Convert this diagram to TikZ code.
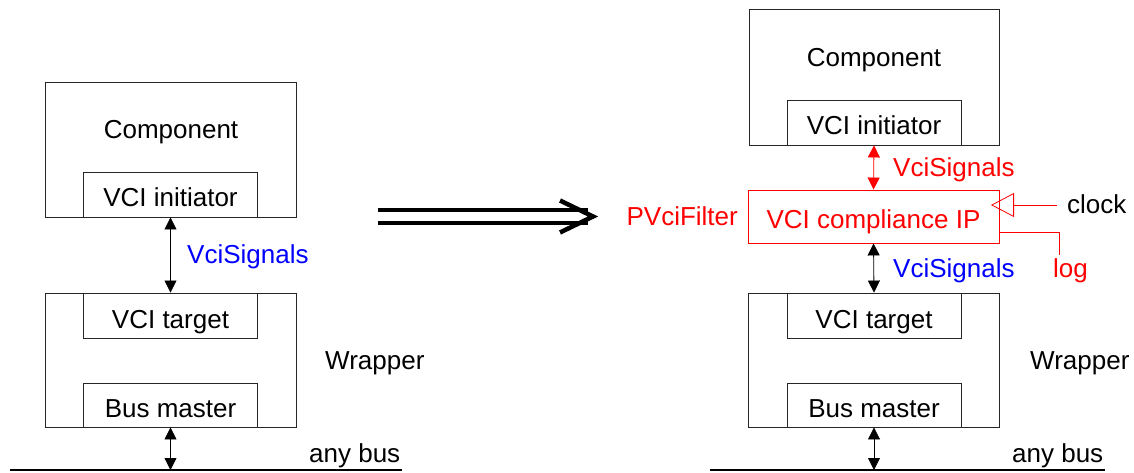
\documentclass[tikz,border=0pt]{standalone}
\usepackage{fontspec}
\setmainfont{Liberation Sans}
\usetikzlibrary{arrows.meta,positioning}
\definecolor{vcired}{RGB}{255,0,0}
\definecolor{vciblue}{RGB}{0,0,255}
\tikzset{
  blk/.style={draw=black!85, line width=0.9pt, inner sep=0pt},
  port/.style={blk, minimum width=174pt, minimum height=45pt, text height=25pt, text depth=0pt},
  lbl/.style={inner sep=0pt, anchor=base west},
  sig/.style={line width=0.8pt, {Triangle[length=12pt,width=12pt]}-{Triangle[length=12pt,width=12pt]}},
  bus/.style={line width=1.5pt}
}

\begin{document}
\begin{tikzpicture}[x=1pt, y=-1pt, font=\fontsize{26}{30}\selectfont]
\useasboundingbox (0,0) rectangle (1134,473);

% left: plain wrapper
\node[blk, minimum width=251pt, minimum height=135pt] (compA) at (170.5,149.5) {};
\node[anchor=base] (compAtxt) at (171,139) {Component};
\node[port] (initA) at (170.5,194.5) {VCI initiator};
\node[blk, minimum width=251pt, minimum height=134pt] (wrapA) at (170.5,360) {};
\node[port] (tgtA) at (170.5,315.5) {VCI target};
\node[port, minimum height=44pt] (busmA) at (170.5,405) {Bus master};
\node[lbl] (wrapAtxt) at (325,369) {Wrapper};
\draw[sig] (initA.south) -- (tgtA.north);
\node[lbl, text=vciblue] (sigA) at (187,263) {VciSignals};
\coordinate (busA1) at (10,470);
\coordinate (busA2) at (402,470);
\draw[bus] (busA1) -- (busA2);
\draw[sig] (busmA.south) -- (busmA.south |- busA1);
\node[lbl] (busAtxt) at (309,462) {any bus};

% transformation arrow
\coordinate (dblA) at (378,216.5);
\coordinate (dblB) at (588,216.5);
\draw[line width=4.5pt, double distance=8.5pt] (dblA) -- (dblB);
\draw[line width=4.5pt, line join=miter] (dblB) ++(-28,-16) -- ++(33,16) -- ++(-33,16);

% right: wrapper with compliance IP
\node[blk, minimum width=250pt, minimum height=136pt] (compB) at (874,77) {};
\node[anchor=base] (compBtxt) at (874,67) {Component};
\node[port] (initB) at (874,122.5) {VCI initiator};
\node[blk, draw=vcired, minimum width=251pt, minimum height=53pt, text height=23pt, text depth=0pt, text=vcired] (ipB) at (873.5,216.5) {VCI compliance IP};
\draw[sig, vcired] (initB.south) -- (ipB.north);
\node[lbl, text=vcired] (sigB1) at (893,177) {VciSignals};
\node[inner sep=0pt, anchor=base east, text=vcired] (filtB) at (738,225) {PVciFilter};
\coordinate (clkIn) at (1057,205);
\coordinate (clkTip) at (991,205);
\draw[vcired, line width=0.8pt, -{Triangle[open, length=23pt, width=24pt]}] (clkIn) -- (clkTip);
\node[lbl] (clkB) at (1067,213) {clock};
\coordinate (logEnd) at (1059,255);
\draw[vcired, line width=0.8pt] ([yshift=-15.5pt]ipB.east) -| (logEnd);
\node[lbl, text=vcired] (logB) at (1053,277) {log};
\node[blk, minimum width=251pt, minimum height=134pt] (wrapB) at (873.5,360) {};
\node[port] (tgtB) at (874,315.5) {VCI target};
\node[port, minimum height=44pt] (busmB) at (874,405) {Bus master};
\draw[sig] (ipB.south) -- (tgtB.north);
\node[lbl, text=vciblue] (sigB2) at (893,277) {VciSignals};
\node[lbl] (wrapBtxt) at (1030,369) {Wrapper};
\coordinate (busB1) at (710,470);
\coordinate (busB2) at (1105,470);
\draw[bus] (busB1) -- (busB2);
\draw[sig] (busmB.south) -- (busmB.south |- busB1);
\node[lbl] (busBtxt) at (1012,462) {any bus};
\end{tikzpicture}
\end{document}
